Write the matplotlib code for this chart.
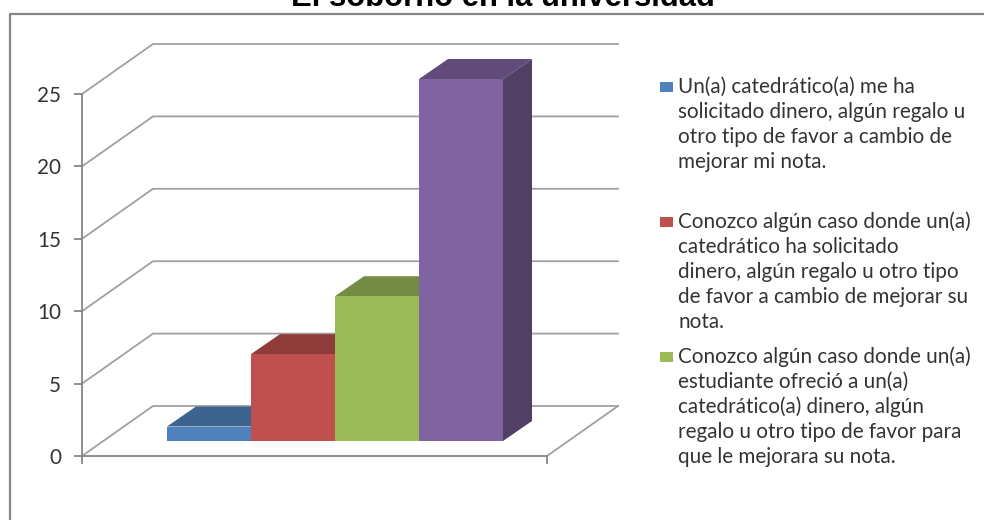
import matplotlib
matplotlib.use("Agg")
import matplotlib.pyplot as plt
from matplotlib.patches import Polygon, Rectangle

W, H = 984, 520
title = "El soborno en la universidad"
values = [1, 6, 10, 25]
front_colors = ["#4F81BD", "#C0504D", "#9BBB59", "#8064A2"]
top_colors = ["#3D648F", "#8F3B39", "#748C43", "#604B7A"]
side_colors = ["#34557A", "#7A3230", "#637839", "#523F66"]
y_ticks = [0, 5, 10, 15, 20, 25]
legend_lines = [
    ["Un(a) catedrático(a) me ha", "solicitado dinero, algún regalo u",
     "otro tipo de favor a cambio de", "mejorar mi nota."],
    ["Conozco algún caso donde un(a)", "catedrático ha solicitado",
     "dinero, algún regalo u otro tipo", "de favor a cambio de mejorar su", "nota."],
    ["Conozco algún caso donde un(a)", "estudiante ofreció a un(a)",
     "catedrático(a) dinero, algún", "regalo u otro tipo de favor para",
     "que le mejorara su nota."],
]
legend_first_y = [87, 222, 357]
line_pitch = 25

plt.rcParams["font.family"] = ["Lato", "DejaVu Sans"]
fig = plt.figure(figsize=(W / 100, H / 100), dpi=100)
ax = fig.add_axes([82 / W, (H - 456) / H, 465 / W, 362 / H])
ax.patch.set_alpha(0)

bar_w = 84.0
ax.set_xlim((82 - 167) / bar_w, (547 - 167) / bar_w)
ax.set_ylim(0, 25)
u_y = 362 / 25
px_x = lambda p: p / bar_w
px_y = lambda p: p / u_y

GRID = "#A0A0A0"
AXC = "#868686"
lw = 1.3
xl, xr = ax.get_xlim()
wall_dx, wall_dy = px_x(71), px_y(50)
for v in y_ticks:
    ax.plot([xl, xl + wall_dx, xr + wall_dx], [v, v + wall_dy, v + wall_dy],
            color=GRID, lw=lw, clip_on=False, zorder=1)
ax.plot([xr, xr + wall_dx], [0, wall_dy], color=GRID, lw=lw, clip_on=False, zorder=1)

base = px_y(15)
dx, dy = px_x(29), px_y(20)
for i, v in enumerate(values):
    z = 3 + i
    top = base + v
    ax.add_patch(Polygon([(i + 1, base), (i + 1 + dx, base + dy), (i + 1 + dx, top + dy), (i + 1, top)],
                         fc=side_colors[i], ec="none", clip_on=False, zorder=z))
    ax.add_patch(Polygon([(i, top), (i + dx, top + dy), (i + 1 + dx, top + dy), (i + 1, top)],
                         fc=top_colors[i], ec="none", clip_on=False, zorder=z))
    ax.bar(i + 0.5, v, width=1, bottom=base, color=front_colors[i], clip_on=False, zorder=z + 0.5)

for s in ["top", "right"]:
    ax.spines[s].set_visible(False)
for s in ["left", "bottom"]:
    ax.spines[s].set_color(AXC)
    ax.spines[s].set_linewidth(lw)
ax.set_yticks(y_ticks)
ax.set_xticks([xl, xr])
ax.set_xticklabels([])
ax.tick_params(axis="both", color=AXC, width=lw, length=5.5)
ax.tick_params(axis="y", pad=9.5, labelsize=14.9, labelcolor="#333333")

fig.add_artist(plt.Line2D([10 / W, 10 / W, 1], [0, 1 - 14 / H, 1 - 14 / H],
                          color=AXC, lw=1.6, transform=fig.transFigure))

fig.text(502.5 / W, 1 - 6 / H, title, ha="center", va="baseline", family="Liberation Sans",
         fontweight="bold", fontsize=22.3, color="black")

for lines, y0, c in zip(legend_lines, legend_first_y, front_colors):
    fig.add_artist(Rectangle((660 / W, 1 - (y0 + 5) / H), 13 / W, 10 / H, fc=c, ec="none",
                             transform=fig.transFigure))
    for k, s in enumerate(lines):
        fig.text(678 / W, 1 - (y0 + k * line_pitch) / H, s, ha="left", va="center",
                 fontsize=14.9, color="#333333")

fig.savefig("out.png", dpi=100)
